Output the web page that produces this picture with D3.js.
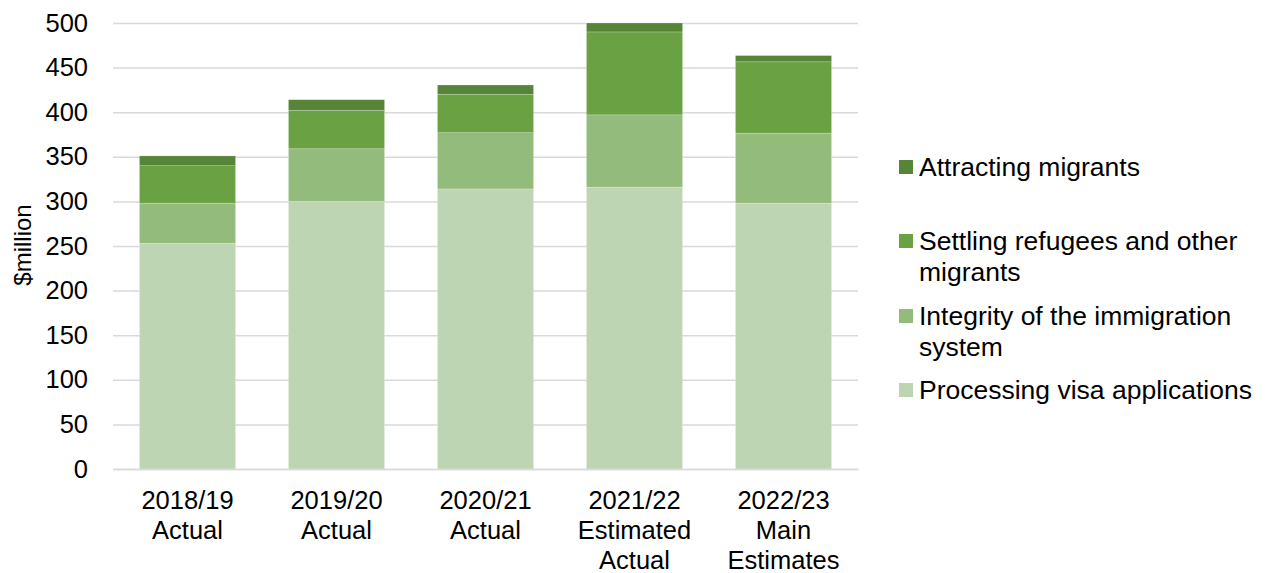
<!DOCTYPE html>
<html>
<head>
<meta charset="utf-8">
<script src="https://cdn.jsdelivr.net/npm/d3@7"></script>
<style>
  body { margin: 0; background: #fff; }
  svg { font-family: "Liberation Sans", Arial, sans-serif; }
</style>
</head>
<body>
<svg id="chart" width="1269" height="573"></svg>
<script>
const categories = [
    ["2018/19", "Actual"],
    ["2019/20", "Actual"],
    ["2020/21", "Actual"],
    ["2021/22", "Estimated", "Actual"],
    ["2022/23", "Main", "Estimates"]
];
const seriesNames = ["Processing visa applications", "Integrity of the immigration system", "Settling refugees and other migrants", "Attracting migrants"];
const processing = [253, 300, 314, 316, 298];
const integrity = [45, 59, 63, 81, 78.5];
const settling = [42, 43, 43, 93, 80];
const attracting = [11, 12, 10.5, 10, 7];
const yTicks = [0, 50, 100, 150, 200, 250, 300, 350, 400, 450, 500];

const colors = ["#bdd5b3", "#93bb7b", "#69a143", "#568537"];
const legendLines = [
    ["Attracting migrants"],
    ["Settling refugees and other", "migrants"],
    ["Integrity of the immigration", "system"],
    ["Processing visa applications"]
];
const FONT = 25.5;

const rows = categories.map((c, i) => ({
    key: i,
    s0: processing[i], s1: integrity[i], s2: settling[i], s3: attracting[i]
}));

const MARGINS = {top: 23, left: 113, right: 411, bottom: 104};
const W = 1269 - MARGINS.left - MARGINS.right;
const H = 573 - MARGINS.top - MARGINS.bottom;

const svg = d3.select('#chart');
const chart = svg.append('g').attr('transform', `translate(${MARGINS.left},${MARGINS.top})`);

const x = d3.scaleBand().domain(rows.map(d => d.key)).range([0, W]).paddingInner(0.355).paddingOuter(0.1775);
const y = d3.scaleLinear().domain([0, 500]).range([H, 0]);

// gridlines
chart.append('g')
    .call(d3.axisLeft(y).tickValues(yTicks).tickSize(-W).tickFormat(''))
    .call(g => g.select('.domain').remove())
    .selectAll('line').attr('stroke', '#d9d9d9').attr('stroke-width', 1.5);

const stack = d3.stack().keys(["s0", "s1", "s2", "s3"]);
const layers = stack(rows);

chart.selectAll('.layer')
    .data(layers)
    .enter()
    .append('g')
    .attr('fill', (d, i) => colors[i])
    .selectAll('rect')
    .data(d => d)
    .enter()
    .append('rect')
    .attr('x', d => x(d.data.key))
    .attr('width', x.bandwidth())
    .attr('y', d => y(d[1]))
    .attr('height', d => y(d[0]) - y(d[1]))
    .attr('stroke', '#ffffff')
    .attr('stroke-opacity', 0.35)
    .attr('stroke-width', 0.6);

// y axis labels
const yAxis = chart.append('g')
    .call(d3.axisLeft(y).tickValues(yTicks).tickSize(0).tickPadding(25));
yAxis.select('.domain').remove();
yAxis.selectAll('text').attr('font-size', FONT).attr('fill', '#000')
    .attr('font-family', '"Liberation Sans", Arial, sans-serif');

// x axis
const xAxis = chart.append('g')
    .attr('transform', `translate(0,${H})`)
    .call(d3.axisBottom(x).tickSize(0).tickFormat(''));
xAxis.select('.domain').attr('stroke', '#d9d9d9').attr('stroke-width', 1.5);

chart.selectAll('.xlabel')
    .data(rows)
    .enter()
    .append('text')
    .attr('x', d => x(d.key) + x.bandwidth() / 2)
    .attr('y', H + 40)
    .attr('text-anchor', 'middle')
    .attr('font-size', FONT)
    .attr('fill', '#000')
    .selectAll('tspan')
    .data(d => categories[d.key])
    .enter()
    .append('tspan')
    .attr('x', function () { return this.parentNode.getAttribute('x'); })
    .attr('dy', (d, i) => i === 0 ? 0 : 30)
    .text(d => d);

svg.append('text')
    .attr('transform', `translate(31,245) rotate(-90)`)
    .attr('text-anchor', 'middle')
    .attr('font-size', 24)
    .attr('fill', '#000')
    .text('$million');

// legend
const legendY = [167, 241, 316, 390];
const legend = svg.append('g');
legendLines.forEach((lines, i) => {
    legend.append('rect')
        .attr('x', 899).attr('y', legendY[i] - 7)
        .attr('width', 14).attr('height', 14)
        .attr('fill', colors[3 - i]);
    const t = legend.append('text')
        .attr('x', 919).attr('y', legendY[i] + 9)
        .attr('font-size', 26.5).attr('fill', '#000');
    lines.forEach((l, j) => {
        t.append('tspan').attr('x', 919).attr('dy', j === 0 ? 0 : 31).text(l);
    });
});
</script>
</body>
</html>
